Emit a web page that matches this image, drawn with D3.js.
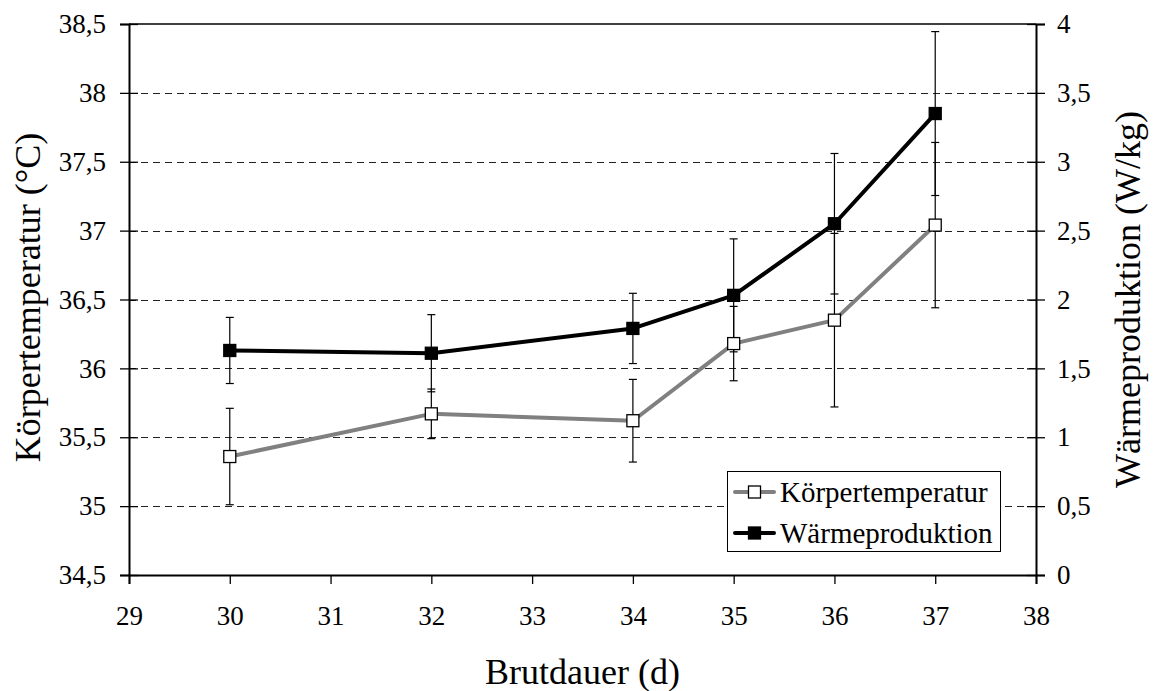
<!DOCTYPE html>
<html>
<head>
<meta charset="utf-8">
<script src="https://cdn.jsdelivr.net/npm/d3@7"></script>
<style>
  body { margin: 0; background: #fff; }
  svg text { font-family: "Liberation Serif", "Times New Roman", serif; fill: #000; }
</style>
</head>
<body>
<svg id="chart" width="1153" height="691"></svg>
<script>
// Brutdauer (d) at which measurements were taken
const days = [30, 32, 34, 35, 36, 37];
// Körpertemperatur (°C), mean and standard deviation
const tempMean = [35.36, 35.67, 35.62, 36.18, 36.35, 37.04];
const tempSd   = [0.35, 0.18, 0.30, 0.27, 0.63, 0.60];
// Wärmeproduktion (W/kg), mean and standard deviation
const heatMean = [1.63, 1.61, 1.79, 2.03, 2.55, 3.35];
const heatSd   = [0.24, 0.28, 0.255, 0.41, 0.51, 0.595];

const xTicks = [29, 30, 31, 32, 33, 34, 35, 36, 37, 38];
const leftTicks = [34.5, 35, 35.5, 36, 36.5, 37, 37.5, 38, 38.5];
const rightTicks = [0, 0.5, 1, 1.5, 2, 2.5, 3, 3.5, 4];
const gridTicks = [35, 35.5, 36, 36.5, 37, 37.5, 38];

const seriesNames = ["Körpertemperatur", "Wärmeproduktion"];

(function draw() {
const svg = d3.select("#chart");
const pLeft = 129, pRight = 1036, pTop = 24, pBottom = 575;
const serif = "'Liberation Serif', 'Times New Roman', serif";

const x = d3.scaleLinear().domain([29, 38]).range([pLeft, pRight]);
const yL = d3.scaleLinear().domain([34.5, 38.5]).range([pBottom, pTop]);
const yR = d3.scaleLinear().domain([0, 4]).range([pBottom, pTop]);

const fmt = d => String(d).replace(".", ",");

// dashed horizontal gridlines
svg.append("g").selectAll("line").data(gridTicks).join("line")
  .attr("x1", pLeft).attr("x2", pRight)
  .attr("y1", d => Math.round(yL(d)) + 0.5).attr("y2", d => Math.round(yL(d)) + 0.5)
  .attr("stroke", "#222").attr("stroke-width", 1).attr("stroke-dasharray", "7,5");

// top frame line
svg.append("line").attr("x1", pLeft).attr("x2", pRight)
  .attr("y1", pTop).attr("y2", pTop).attr("stroke", "#000").attr("stroke-width", 1.5);

// axes
const axisStyle = g => {
  g.attr("font-family", serif).attr("font-size", 27);
  g.select(".domain").attr("stroke", "#000").attr("stroke-width", 2);
  g.selectAll(".tick line").attr("stroke", "#000").attr("stroke-width", 1.3);
  g.selectAll(".tick text").attr("fill", "#000");
};

svg.append("g").attr("transform", `translate(${pLeft},0)`)
  .call(d3.axisLeft(yL).tickValues(leftTicks).tickFormat(fmt).tickSizeOuter(0).tickSize(9).tickPadding(14))
  .call(axisStyle)
  .call(g => g.selectAll(".tick line").attr("x1", 9).attr("x2", -9));

svg.append("g").attr("transform", `translate(${pRight},0)`)
  .call(d3.axisRight(yR).tickValues(rightTicks).tickFormat(fmt).tickSizeOuter(0).tickSize(9).tickPadding(12))
  .call(axisStyle)
  .call(g => g.selectAll(".tick line").attr("x1", -9).attr("x2", 9));

svg.append("g").attr("transform", `translate(0,${pBottom})`)
  .call(d3.axisBottom(x).tickValues(xTicks).tickFormat(fmt).tickSizeOuter(0).tickSize(9).tickPadding(22))
  .call(axisStyle);

// axis titles
svg.append("text").attr("transform", `translate(40,${(pTop + pBottom) / 2 - 2}) rotate(-90)`)
  .attr("text-anchor", "middle").attr("font-size", 36).text("Körpertemperatur (°C)");
svg.append("text").attr("transform", `translate(1140,${(pTop + pBottom) / 2}) rotate(-90)`)
  .attr("text-anchor", "middle").attr("font-size", 36).text("Wärmeproduktion (W/kg)");
svg.append("text").attr("x", (pLeft + pRight) / 2).attr("y", 684)
  .attr("text-anchor", "middle").attr("font-size", 36).text("Brutdauer (d)");

// error bars
function errorBars(means, sds, y) {
  const g = svg.append("g");
  const rows = days.map((d, i) => ({ d, m: means[i], s: sds[i] }));
  g.selectAll("line.v").data(rows).join("line")
    .attr("x1", r => x(r.d)).attr("x2", r => x(r.d))
    .attr("y1", r => y(r.m - r.s)).attr("y2", r => y(r.m + r.s))
    .attr("stroke", "#000").attr("stroke-width", 1.2);
  rows.forEach(r => {
    [r.m - r.s, r.m + r.s].forEach(v => {
      g.append("line").attr("x1", x(r.d) - 4).attr("x2", x(r.d) + 4)
        .attr("y1", y(v)).attr("y2", y(v)).attr("stroke", "#000").attr("stroke-width", 1.2);
    });
  });
}
errorBars(tempMean, tempSd, yL);
errorBars(heatMean, heatSd, yR);

// series lines and markers
const tempColor = "#808080";
function series(means, y, color, fill) {
  const pts = days.map((d, i) => [x(d), y(means[i])]);
  svg.append("path").attr("d", d3.line()(pts)).attr("fill", "none")
    .attr("stroke", color).attr("stroke-width", 4).attr("stroke-linejoin", "round");
  svg.append("g").selectAll("rect").data(pts).join("rect")
    .attr("x", p => p[0] - 6).attr("y", p => p[1] - 6)
    .attr("width", 12).attr("height", 12)
    .attr("fill", fill).attr("stroke", "#000").attr("stroke-width", 1.3);
}
series(tempMean, yL, tempColor, "#fff");
series(heatMean, yR, "#000", "#000");

// legend
const lg = svg.append("g");
lg.append("rect").attr("x", 727.5).attr("y", 471.5).attr("width", 273).attr("height", 80)
  .attr("fill", "#fff").attr("stroke", "#000").attr("stroke-width", 1);
const legendRows = [
  { name: seriesNames[0], color: tempColor, fill: "#fff", y: 492 },
  { name: seriesNames[1], color: "#000", fill: "#000", y: 533 }
];
legendRows.forEach(r => {
  lg.append("line").attr("x1", 735).attr("x2", 774).attr("y1", r.y).attr("y2", r.y)
    .attr("stroke", r.color).attr("stroke-width", 4).attr("stroke-linecap", "round");
  lg.append("rect").attr("x", 748.5).attr("y", r.y - 6).attr("width", 12).attr("height", 12)
    .attr("fill", r.fill).attr("stroke", "#000").attr("stroke-width", 1.3);
  lg.append("text").attr("x", 780).attr("y", r.y + 10).attr("font-size", 29).text(r.name);
});
})();
</script>
</body>
</html>
